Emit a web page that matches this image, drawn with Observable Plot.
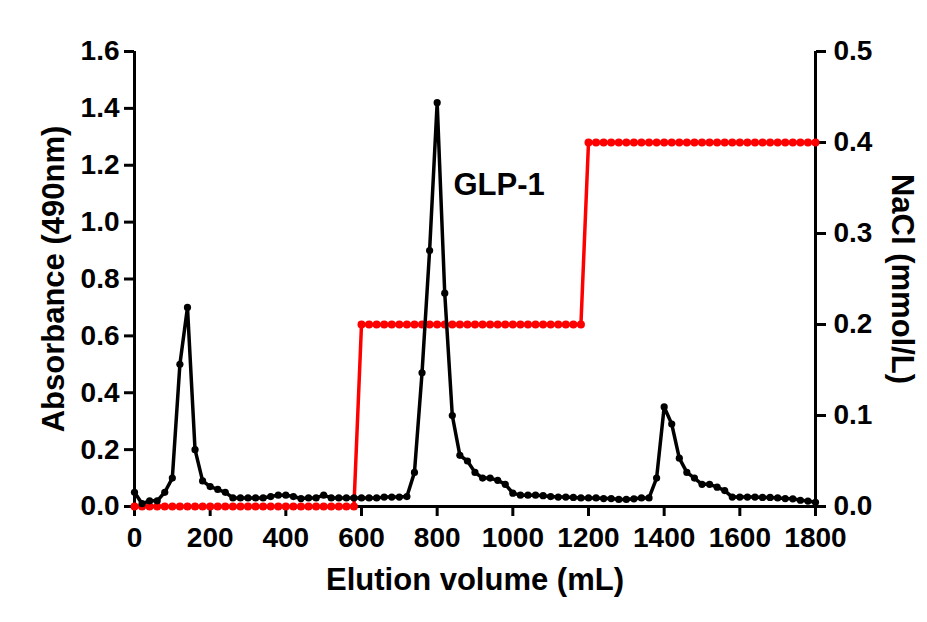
<!DOCTYPE html>
<html>
<head>
<meta charset="utf-8">
<script src="https://cdn.jsdelivr.net/npm/d3@7"></script>
<script src="https://cdn.jsdelivr.net/npm/@observablehq/plot@0.6"></script>
<style>
  html, body { margin: 0; padding: 0; background: #fff; }
  #chart svg { display: block; }
</style>
</head>
<body>
<div id="chart"></div>
<script>
// Elution volume (mL), sampled every 20 mL
const volume = [
  0, 20, 40, 60, 80, 100, 120, 140, 160, 180,
  200, 220, 240, 260, 280, 300, 320, 340, 360, 380,
  400, 420, 440, 460, 480, 500, 520, 540, 560, 580,
  600, 620, 640, 660, 680, 700, 720, 740, 760, 780,
  800, 820, 840, 860, 880, 900, 920, 940, 960, 980,
  1000, 1020, 1040, 1060, 1080, 1100, 1120, 1140, 1160, 1180,
  1200, 1220, 1240, 1260, 1280, 1300, 1320, 1340, 1360, 1380,
  1400, 1420, 1440, 1460, 1480, 1500, 1520, 1540, 1560, 1580,
  1600, 1620, 1640, 1660, 1680, 1700, 1720, 1740, 1760, 1780,
  1800
];
// Absorbance at 490 nm (left axis)
const absorbance = [
  0.05, 0.01, 0.02, 0.02, 0.05, 0.10, 0.50, 0.70, 0.20, 0.09,
  0.07, 0.06, 0.05, 0.03, 0.03, 0.03, 0.03, 0.03, 0.035, 0.04,
  0.04, 0.035, 0.028, 0.03, 0.03, 0.04, 0.03, 0.03, 0.03, 0.03,
  0.03, 0.03, 0.03, 0.033, 0.033, 0.033, 0.035, 0.12, 0.47, 0.90,
  1.42, 0.75, 0.32, 0.18, 0.16, 0.12, 0.10, 0.10, 0.092, 0.078,
  0.047, 0.04, 0.04, 0.04, 0.038, 0.035, 0.033, 0.033, 0.032, 0.03,
  0.03, 0.03, 0.028, 0.028, 0.025, 0.025, 0.027, 0.03, 0.03, 0.10,
  0.35, 0.29, 0.17, 0.12, 0.10, 0.078, 0.078, 0.068, 0.056, 0.033,
  0.033, 0.033, 0.033, 0.032, 0.032, 0.03, 0.028, 0.027, 0.022, 0.019,
  0.015
];
// NaCl concentration (mmol/L, right axis)
const nacl = [
  0, 0, 0, 0, 0, 0, 0, 0, 0, 0,
  0, 0, 0, 0, 0, 0, 0, 0, 0, 0,
  0, 0, 0, 0, 0, 0, 0, 0, 0, 0,
  0.2, 0.2, 0.2, 0.2, 0.2, 0.2, 0.2, 0.2, 0.2, 0.2,
  0.2, 0.2, 0.2, 0.2, 0.2, 0.2, 0.2, 0.2, 0.2, 0.2,
  0.2, 0.2, 0.2, 0.2, 0.2, 0.2, 0.2, 0.2, 0.2, 0.2,
  0.4, 0.4, 0.4, 0.4, 0.4, 0.4, 0.4, 0.4, 0.4, 0.4,
  0.4, 0.4, 0.4, 0.4, 0.4, 0.4, 0.4, 0.4, 0.4, 0.4,
  0.4, 0.4, 0.4, 0.4, 0.4, 0.4, 0.4, 0.4, 0.4, 0.4,
  0.4
];
const xTicks = [0, 200, 400, 600, 800, 1000, 1200, 1400, 1600, 1800];
const yLeftTicks = [0, 0.2, 0.4, 0.6, 0.8, 1.0, 1.2, 1.4, 1.6];
const yRightTicks = [0, 0.1, 0.2, 0.3, 0.4, 0.5];
const peakLabel = [{x: 843, y: 1.13, text: "GLP-1"}];
const xTitle = "Elution volume (mL)";
const yLeftTitle = "Absorbance (490nm)";
const yRightTitle = "NaCl (mmol/L)";

const leftMax = 1.6, rightMax = 0.5;
const k = leftMax / rightMax; // map right axis onto left scale

const absData = volume.map((v, i) => ({v, a: absorbance[i]}));
const naclData = volume.map((v, i) => ({v, c: nacl[i] * k}));

const font = "'Liberation Sans', Arial, Helvetica, sans-serif";

const chart = Plot.plot({
  width: 927,
  height: 622,
  marginLeft: 134,
  marginRight: 112,
  marginTop: 51,
  marginBottom: 116,
  style: {fontFamily: font, color: "#000", background: "#fff", overflow: "visible"},
  x: {domain: [0, 1800]},
  y: {domain: [0, leftMax]},
  marks: [
    Plot.axisX(xTicks, {tickSize: 10, tickPadding: 11, strokeWidth: 3, fontSize: 28, fontWeight: "bold", label: null, tickFormat: d => String(d)}),
    Plot.axisY(yLeftTicks, {anchor: "left", tickSize: 10, tickPadding: 5, strokeWidth: 3, fontSize: 28, fontWeight: "bold", label: null, tickFormat: d => d.toFixed(1)}),
    Plot.axisY(yRightTicks.map(t => t * k), {anchor: "right", tickSize: 10, tickPadding: 8, strokeWidth: 3, fontSize: 28, fontWeight: "bold", label: null, tickFormat: d => (d / k).toFixed(1)}),
    Plot.ruleX([0, 1800], {y1: 0, y2: leftMax, stroke: "#000", strokeWidth: 3}),
    Plot.ruleY([0], {x1: 0, x2: 1800, stroke: "#000", strokeWidth: 3}),
    Plot.line(naclData, {x: "v", y: "c", stroke: "#ff0000", strokeWidth: 3.5}),
    Plot.dot(naclData, {x: "v", y: "c", r: 4, fill: "#ff0000", stroke: "none"}),
    Plot.line(absData, {x: "v", y: "a", stroke: "#000", strokeWidth: 3.5, strokeLinejoin: "round"}),
    Plot.dot(absData, {x: "v", y: "a", r: 3.6, fill: "#000", stroke: "none"}),
    Plot.text(peakLabel, {x: "x", y: "y", text: "text", textAnchor: "start", fontSize: 31, fontWeight: "bold", fill: "#000"}),
    Plot.text([xTitle], {frameAnchor: "bottom", dy: 74, textAnchor: "middle", fontSize: 31, fontWeight: "bold", fill: "#000", lineAnchor: "middle"}),
    Plot.text([yLeftTitle], {frameAnchor: "left", dx: -80, rotate: -90, textAnchor: "middle", fontSize: 31, fontWeight: "bold", fill: "#000", lineAnchor: "middle"}),
    Plot.text([yRightTitle], {frameAnchor: "right", dx: 86, rotate: 90, textAnchor: "middle", fontSize: 31, fontWeight: "bold", fill: "#000", lineAnchor: "middle"})
  ]
});
document.getElementById("chart").appendChild(chart);
</script>
</body>
</html>
